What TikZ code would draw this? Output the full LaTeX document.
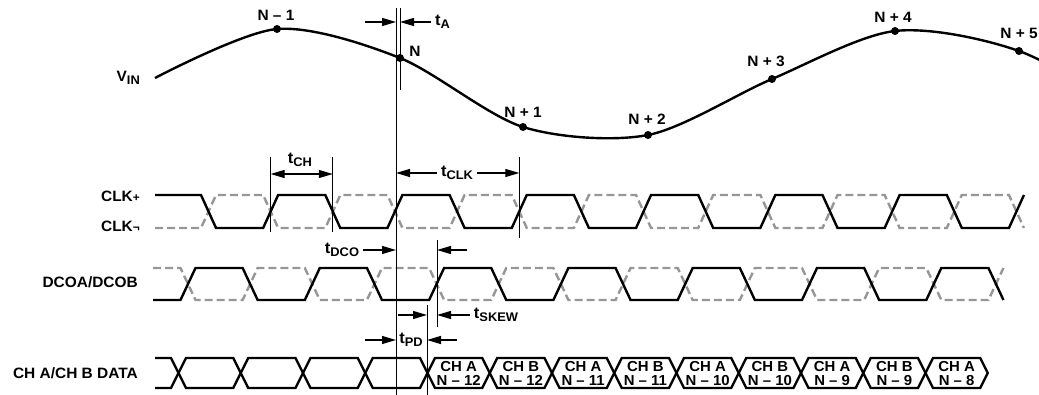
\documentclass[tikz,border=0pt]{standalone}
\usepackage{fontspec}
\setmainfont{Liberation Sans}[FakeStretch=1.03]
\usetikzlibrary{arrows.meta}
\definecolor{dashgray}{RGB}{150,150,150}
\newcommand{\tsub}[1]{{\fontsize{16}{16}\selectfont t}\raisebox{-3.5pt}{\fontsize{12.5}{12.5}\selectfont #1}}
\newcommand{\sm}[1]{{\fontsize{11.5}{11.5}\selectfont #1}}

\begin{document}
\begin{tikzpicture}[x=1pt,y=-1pt,
  every node/.style={font=\bfseries\fontsize{15}{15}\selectfont, inner sep=0pt},
  wave/.style={line width=2.4pt},
  wavedash/.style={line width=2.4pt, dashgray, dash pattern=on 8pt off 4pt},
  guide/.style={line width=1pt},
  dim/.style={line width=1.2pt, -{Triangle[length=14pt,width=8pt]}},
  dimboth/.style={line width=1.2pt, {Triangle[length=14pt,width=8pt]}-{Triangle[length=14pt,width=8pt]}},
  tlbl/.style={inner xsep=4pt},
  sample/.style={circle, fill, minimum size=8pt},
  cell/.style={align=center, font=\bfseries\fontsize{14.5}{14}\selectfont}]
\useasboundingbox (0,0) rectangle (1039,395);

\node[anchor=east] (vin) at (140,78) {V\raisebox{-3.5pt}{\fontsize{12.5}{12.5}\selectfont IN}};
\node[anchor=east] (clkp) at (140,196) {CLK\sm{+}};
\node[anchor=east] (clkn) at (140,226) {CLK\sm{¬}};
\node[anchor=east] (dco) at (138,282) {DCOA/DCOB};
\node[anchor=east] (data) at (138,373) {CH A/CH B DATA};

\draw[line width=2.4pt] plot[smooth] coordinates {(155,78) (277,29) (400,58) (523,127) (648,135) (772,79) (895,31) (1019,51) (1142,118)};
\node[sample] (nm1) at (277,29) {};
\node[sample] (n0) at (400,58) {};
\node[sample] (n1) at (523,127) {};
\node[sample] (n2) at (648,135) {};
\node[sample] (n3) at (772,79) {};
\node[sample] (n4) at (895,31) {};
\node[sample] (n5) at (1019,51) {};
\node (lnm1) at (276,15) {N – 1};
\node (ln0) at (415,51) {N};
\node (ln1) at (523,112) {N + 1};
\node (ln2) at (647,119) {N + 2};
\node (ln3) at (766,61) {N + 3};
\node (ln4) at (893,17) {N + 4};
\node (ln5) at (1019,33) {N + 5};

\draw[wavedash] (155,228) \foreach \k in {0,...,13} { -- ({208.5+62.15*\k-7.5},{228-33*mod(\k,2)}) -- ({208.5+62.15*\k+7.5},{195+33*mod(\k,2)}) };
\draw[wave] (155,195) \foreach \k in {0,...,13} { -- ({208.5+62.15*\k-7.5},{195+33*mod(\k,2)}) -- ({208.5+62.15*\k+7.5},{228-33*mod(\k,2)}) };

\draw[wavedash] (153,268) \foreach \k in {0,...,13} { -- ({188+62.15*\k-7.5},{268+32*mod(\k,2)}) -- ({188+62.15*\k+7.5},{300-32*mod(\k,2)}) };
\draw[wave] (153,300) \foreach \k in {0,...,13} { -- ({188+62.15*\k-7.5},{300-32*mod(\k,2)}) -- ({188+62.15*\k+7.5},{268+32*mod(\k,2)}) };

\draw[wave] (155,358) -- (171,358) -- (178.5,373) -- (171,388) -- (155,388);
\foreach \k in {0,...,12}
  \draw[wave] ({178.5+62.25*\k},373) -- ++(7.5,-15) -- ({178.5+62.25*(\k+1)-7.5},358) -- ++(7.5,15) -- ++(-7.5,15) -- ({178.5+62.25*\k+7.5},388) -- cycle;
\foreach \k/\ch/\n in {4/A/12, 5/B/12, 6/A/11, 7/B/11, 8/A/10, 9/B/10, 10/A/9, 11/B/9, 12/A/8}
  \node[cell] (d\k) at ({178.5+62.25*(\k+0.5)},373.5) {CH \ch\\N – \n};

\coordinate (gA) at (396,8);
\coordinate (gA2) at (400,8);
\coordinate (gCH1) at (270.6,157);
\coordinate (gCH2) at (332.8,157);
\coordinate (gCLK) at (519.3,157);
\coordinate (gDCO) at (437,240);
\coordinate (gPD) at (427,305);
\draw[guide] (gA) -- ++(0,387);
\draw[guide] (gA2) -- ++(0,82);
\draw[guide] (gCH1) -- ++(0,75);
\draw[guide] (gCH2) -- ++(0,75);
\draw[guide] (gCLK) -- ++(0,81);
\draw[guide] (gDCO) -- ++(0,87);
\draw[guide] (gPD) -- ++(0,90);

\coordinate (tAl) at (365,22);
\node[tlbl, anchor=west] (tA) at (431,22) {\tsub{A}};
\draw[dim] (tAl) -- (tAl -| gA);
\draw[dim] (tA.west) -- (tA.west -| gA2);

\node[tlbl] (tCH) at (300,160) {\tsub{CH}};
\draw[dimboth] (gCH1 |- 0,174) -- (gCH2 |- 0,174);

\node[tlbl] (tCLK) at (457,173) {\tsub{CLK}};
\draw[dim] (tCLK.west) -- (tCLK.west -| gA);
\draw[dim] (tCLK.east) -- (tCLK.east -| gCLK);

\node[tlbl] (tDCO) at (342,250) {\tsub{DCO}};
\coordinate (tDCOr) at (467,250);
\draw[dim] (tDCO.east) -- (tDCO.east -| gA);
\draw[dim] (tDCOr) -- (tDCOr -| gDCO);

\node[tlbl] (tSK) at (496,315) {\tsub{SKEW}};
\coordinate (tSKl) at (398,315);
\draw[dim] (tSK.west) -- (tSK.west -| gDCO);
\draw[dim] (tSKl) -- (tSKl -| gPD);

\node[tlbl] (tPD) at (411,340) {\tsub{PD}};
\coordinate (tPDl) at (365,340);
\coordinate (tPDr) at (457,340);
\draw[dim] (tPDl) -- (tPDl -| gA);
\draw[dim] (tPDr) -- (tPDr -| gPD);
\end{tikzpicture}
\end{document}
